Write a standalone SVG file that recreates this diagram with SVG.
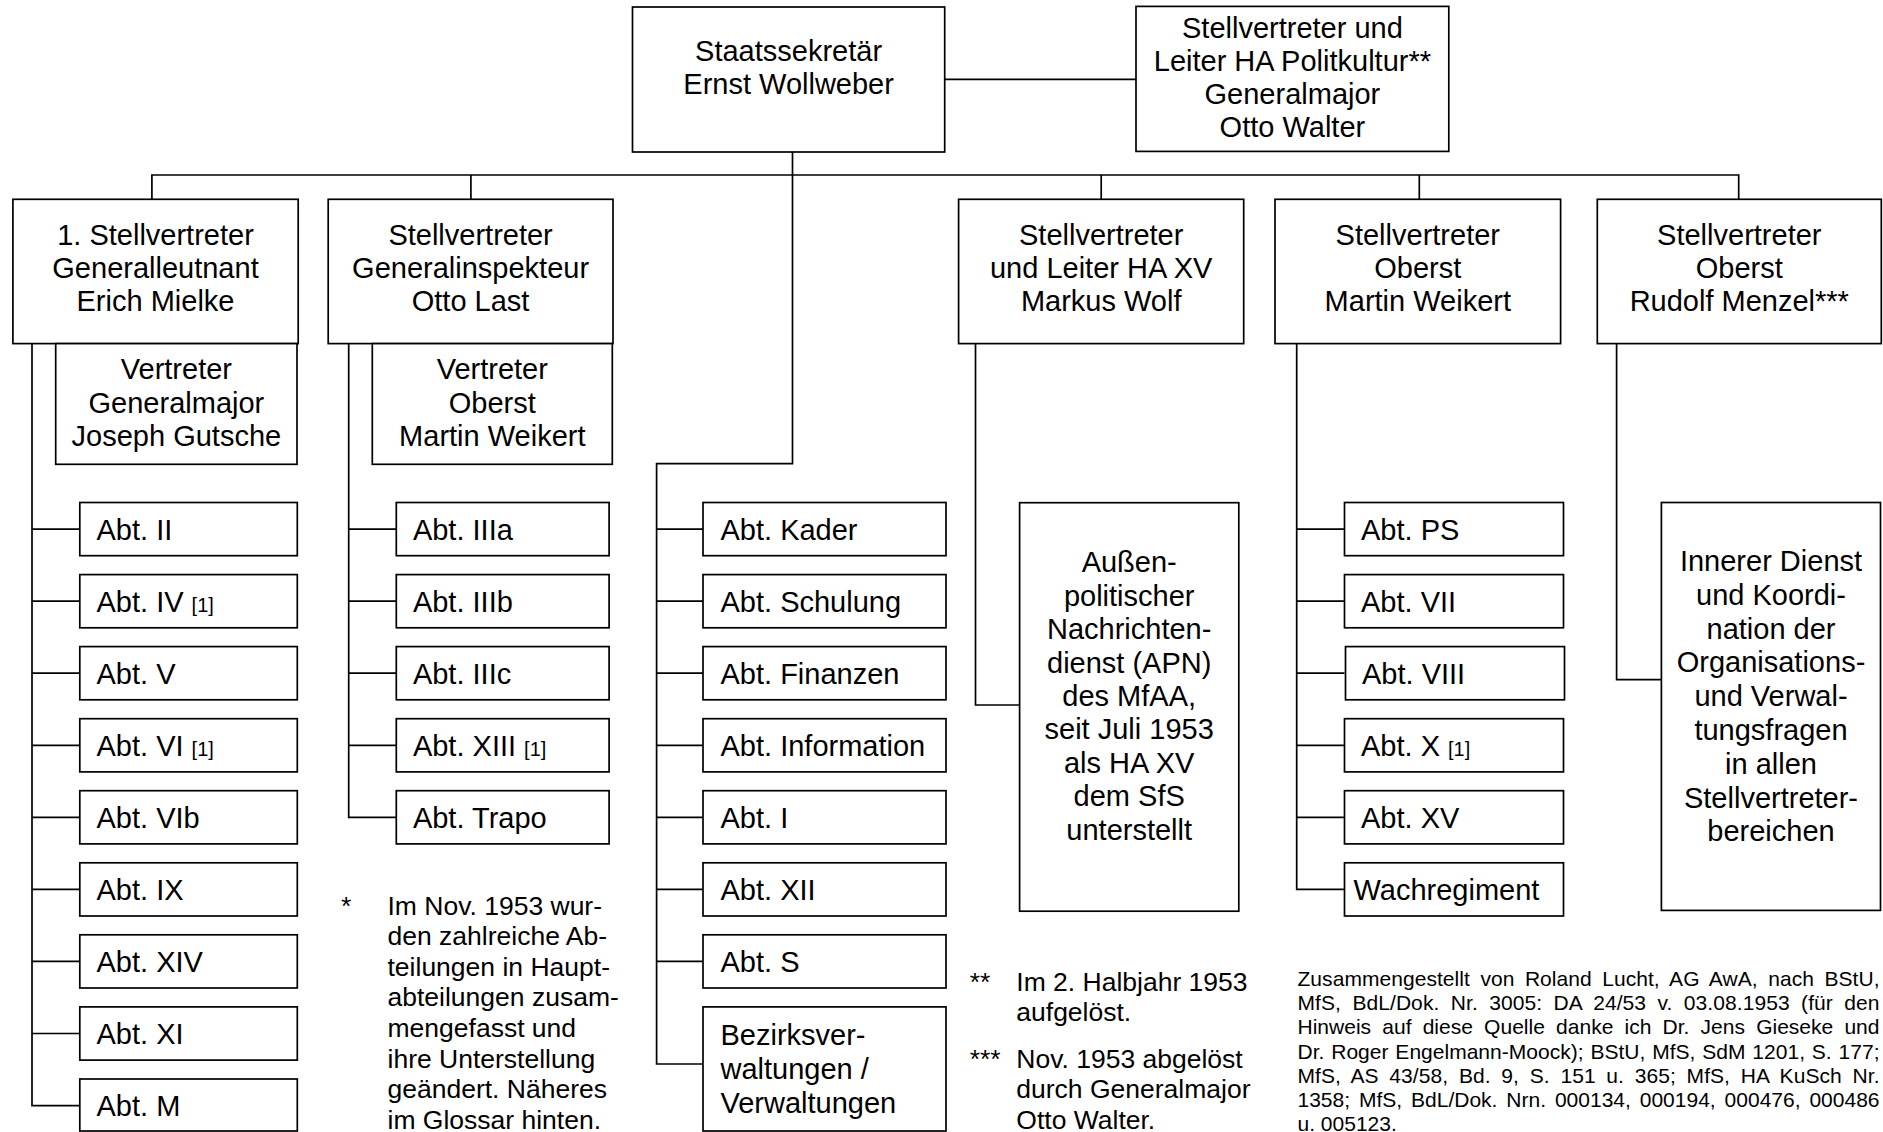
<svg xmlns="http://www.w3.org/2000/svg" width="1883" height="1132" viewBox="0 0 1883 1132">
<style>
rect.b{fill:#fff;stroke:#000;stroke-width:1.7}
.c path{fill:none;stroke:#000;stroke-width:1.7}
text{font-family:"Liberation Sans",Arial,sans-serif;fill:#000}
.m{font-size:29px}
.mc{font-size:29px;text-anchor:middle}
.f{font-size:26.5px}
.s{font-size:21px}
.sm{font-size:20px}
</style>
<rect x="0" y="0" width="1883" height="1132" fill="#fff"/>
<g class="c" id="connectors">
<path d="M944.7 79.3H1136"/>
<path d="M792.5 152V175"/>
<path d="M151.9 199.3V175H1738.7V199.3"/>
<path d="M470.9 175V199.3"/>
<path d="M1101.2 175V199.3"/>
<path d="M1419.3 175V199.3"/>
<path d="M792.5 175V463.6H656.6V1064H703"/>
<path d="M32 343.6V1105.6H79.8"/>
<path d="M32 529.1H79.8M32 601.2H79.8M32 673.2H79.8M32 745.3H79.8M32 817.3H79.8M32 889.4H79.8M32 961.4H79.8M32 1033.5H79.8"/>
<path d="M348.7 343.6V817.3H396.3"/>
<path d="M348.7 529.1H396.3M348.7 601.2H396.3M348.7 673.2H396.3M348.7 745.3H396.3"/>
<path d="M656.6 529.1H703M656.6 601.2H703M656.6 673.2H703M656.6 745.3H703M656.6 817.3H703M656.6 889.4H703M656.6 961.4H703"/>
<path d="M975.5 343.6V705H1019.6"/>
<path d="M1296.7 343.6V889.4H1344.5"/>
<path d="M1296.7 529.1H1344.5M1296.7 601.2H1344.5M1296.7 673.2H1344.5M1296.7 745.3H1344.5M1296.7 817.3H1344.5"/>
<path d="M1616.6 343.6V679.6H1661.4"/>
</g>
<g id="n-sfs"><rect class="b" x="632.5" y="7" width="312.2" height="145"/>
<text class="mc" x="788.6" y="60.7">Staatssekretär</text><text class="mc" x="788.6" y="93.8">Ernst Wollweber</text></g>
<g id="n-politkultur"><rect class="b" x="1136" y="6.4" width="312.8" height="145"/>
<text class="mc" x="1292.4" y="37.5">Stellvertreter und</text><text class="mc" x="1292.4" y="70.8">Leiter HA Politkultur**</text><text class="mc" x="1292.4" y="104.1">Generalmajor</text><text class="mc" x="1292.4" y="137.4">Otto Walter</text></g>
<g id="n-mielke"><rect class="b" x="12.9" y="199.3" width="285.3" height="144.3"/>
<text class="mc" x="155.5" y="244.5">1. Stellvertreter</text><text class="mc" x="155.5" y="277.8">Generalleutnant</text><text class="mc" x="155.5" y="311.1">Erich Mielke</text></g>
<g id="n-last"><rect class="b" x="328.2" y="199.3" width="284.8" height="144.3"/>
<text class="mc" x="470.6" y="244.5">Stellvertreter</text><text class="mc" x="470.6" y="277.8">Generalinspekteur</text><text class="mc" x="470.6" y="311.1">Otto Last</text></g>
<g id="n-wolf"><rect class="b" x="958.6" y="199.3" width="285.1" height="144.3"/>
<text class="mc" x="1101.2" y="244.5">Stellvertreter</text><text class="mc" x="1101.2" y="277.8">und Leiter HA XV</text><text class="mc" x="1101.2" y="311.1">Markus Wolf</text></g>
<g id="n-weikert"><rect class="b" x="1275" y="199.3" width="285.6" height="144.3"/>
<text class="mc" x="1417.8" y="244.5">Stellvertreter</text><text class="mc" x="1417.8" y="277.8">Oberst</text><text class="mc" x="1417.8" y="311.1">Martin Weikert</text></g>
<g id="n-menzel"><rect class="b" x="1597.3" y="199.3" width="284" height="144.3"/>
<text class="mc" x="1739.3" y="244.5">Stellvertreter</text><text class="mc" x="1739.3" y="277.8">Oberst</text><text class="mc" x="1739.3" y="311.1">Rudolf Menzel***</text></g>
<g id="n-gutsche"><rect class="b" x="55.7" y="343.6" width="241.3" height="120.7"/>
<text class="mc" x="176.4" y="379.3">Vertreter</text><text class="mc" x="176.4" y="412.5">Generalmajor</text><text class="mc" x="176.4" y="445.7">Joseph Gutsche</text></g>
<g id="n-vweikert"><rect class="b" x="372.3" y="343.6" width="240" height="120.7"/>
<text class="mc" x="492.3" y="379.3">Vertreter</text><text class="mc" x="492.3" y="412.5">Oberst</text><text class="mc" x="492.3" y="445.7">Martin Weikert</text></g>
<g id="col1">
<g id="n-abt2"><rect class="b" x="79.8" y="502.5" width="217.5" height="53.2"/><text class="m" x="96.5" y="539.6">Abt. II</text></g>
<g id="n-abt4"><rect class="b" x="79.8" y="574.6" width="217.5" height="53.2"/><text class="m" x="96.5" y="611.7">Abt. IV <tspan class="sm">[1]</tspan></text></g>
<g id="n-abt5"><rect class="b" x="79.8" y="646.6" width="217.5" height="53.2"/><text class="m" x="96.5" y="683.7">Abt. V</text></g>
<g id="n-abt6"><rect class="b" x="79.8" y="718.7" width="217.5" height="53.2"/><text class="m" x="96.5" y="755.8">Abt. VI <tspan class="sm">[1]</tspan></text></g>
<g id="n-abt6b"><rect class="b" x="79.8" y="790.7" width="217.5" height="53.2"/><text class="m" x="96.5" y="827.8">Abt. VIb</text></g>
<g id="n-abt9"><rect class="b" x="79.8" y="862.8" width="217.5" height="53.2"/><text class="m" x="96.5" y="899.9">Abt. IX</text></g>
<g id="n-abt14"><rect class="b" x="79.8" y="934.8" width="217.5" height="53.2"/><text class="m" x="96.5" y="971.9">Abt. XIV</text></g>
<g id="n-abt11"><rect class="b" x="79.8" y="1006.9" width="217.5" height="53.2"/><text class="m" x="96.5" y="1044">Abt. XI</text></g>
<g id="n-abtm"><rect class="b" x="79.8" y="1079" width="217.5" height="52"/><text class="m" x="96.5" y="1116.1">Abt. M</text></g>
</g>
<g id="col2">
<g id="n-abt3a"><rect class="b" x="396.3" y="502.5" width="212.8" height="53.2"/><text class="m" x="412.9" y="539.6">Abt. IIIa</text></g>
<g id="n-abt3b"><rect class="b" x="396.3" y="574.6" width="212.8" height="53.2"/><text class="m" x="412.9" y="611.7">Abt. IIIb</text></g>
<g id="n-abt3c"><rect class="b" x="396.3" y="646.6" width="212.8" height="53.2"/><text class="m" x="412.9" y="683.7">Abt. IIIc</text></g>
<g id="n-abt13"><rect class="b" x="396.3" y="718.7" width="212.8" height="53.2"/><text class="m" x="412.9" y="755.8">Abt. XIII <tspan class="sm">[1]</tspan></text></g>
<g id="n-trapo"><rect class="b" x="396.3" y="790.7" width="212.8" height="53.2"/><text class="m" x="412.9" y="827.8">Abt. Trapo</text></g>
</g>
<g id="col3">
<g id="n-kader"><rect class="b" x="703" y="502.5" width="243" height="53.2"/><text class="m" x="720.5" y="539.6">Abt. Kader</text></g>
<g id="n-schulung"><rect class="b" x="703" y="574.6" width="243" height="53.2"/><text class="m" x="720.5" y="611.7">Abt. Schulung</text></g>
<g id="n-finanzen"><rect class="b" x="703" y="646.6" width="243" height="53.2"/><text class="m" x="720.5" y="683.7">Abt. Finanzen</text></g>
<g id="n-information"><rect class="b" x="703" y="718.7" width="243" height="53.2"/><text class="m" x="720.5" y="755.8">Abt. Information</text></g>
<g id="n-abt1"><rect class="b" x="703" y="790.7" width="243" height="53.2"/><text class="m" x="720.5" y="827.8">Abt. I</text></g>
<g id="n-abt12"><rect class="b" x="703" y="862.8" width="243" height="53.2"/><text class="m" x="720.5" y="899.9">Abt. XII</text></g>
<g id="n-abts"><rect class="b" x="703" y="934.8" width="243" height="53.2"/><text class="m" x="720.5" y="971.9">Abt. S</text></g>
<g id="n-bezirk"><rect class="b" x="703" y="1006.9" width="243" height="124.1"/>
<text class="m" x="720.5" y="1044.7">Bezirksver-</text><text class="m" x="720.5" y="1078.8">waltungen /</text><text class="m" x="720.5" y="1112.8">Verwaltungen</text></g>
</g>
<g id="n-apn"><rect class="b" x="1019.6" y="502.7" width="219.2" height="408.5"/>
<text class="mc" x="1129.2" y="572.3">Außen-</text><text class="mc" x="1129.2" y="605.7">politischer</text><text class="mc" x="1129.2" y="639.1">Nachrichten-</text><text class="mc" x="1129.2" y="672.5">dienst (APN)</text><text class="mc" x="1129.2" y="705.9">des MfAA,</text><text class="mc" x="1129.2" y="739.3">seit Juli 1953</text><text class="mc" x="1129.2" y="772.7">als HA XV</text><text class="mc" x="1129.2" y="806.1">dem SfS</text><text class="mc" x="1129.2" y="839.5">unterstellt</text></g>
<g id="col5">
<g id="n-ps"><rect class="b" x="1344.5" y="502.5" width="219" height="53.2"/><text class="m" x="1361" y="539.6">Abt. PS</text></g>
<g id="n-abt7"><rect class="b" x="1344.5" y="574.6" width="219" height="53.2"/><text class="m" x="1361" y="611.7">Abt. VII</text></g>
<g id="n-abt8"><rect class="b" x="1345.5" y="646.6" width="219" height="53.2"/><text class="m" x="1362" y="683.7">Abt. VIII</text></g>
<g id="n-abt10"><rect class="b" x="1344.5" y="718.7" width="219" height="53.2"/><text class="m" x="1361" y="755.8">Abt. X <tspan class="sm">[1]</tspan></text></g>
<g id="n-abt15"><rect class="b" x="1344.5" y="790.7" width="219" height="53.2"/><text class="m" x="1361" y="827.8">Abt. XV</text></g>
<g id="n-wach"><rect class="b" x="1344.5" y="862.8" width="219" height="53.2"/><text class="m" x="1353.5" y="899.9">Wachregiment</text></g>
</g>
<g id="n-innerer"><rect class="b" x="1661.4" y="502.5" width="219.1" height="407.9"/>
<text class="mc" x="1771" y="571">Innerer Dienst</text><text class="mc" x="1771" y="604.8">und Koordi-</text><text class="mc" x="1771" y="638.6">nation der</text><text class="mc" x="1771" y="672.4">Organisations-</text><text class="mc" x="1771" y="706.2">und Verwal-</text><text class="mc" x="1771" y="740">tungsfragen</text><text class="mc" x="1771" y="773.8">in allen</text><text class="mc" x="1771" y="807.6">Stellvertreter-</text><text class="mc" x="1771" y="841.4">bereichen</text></g>
<g id="note1">
<text class="f" x="341" y="914.5">*</text>
<text class="f" x="387.5" y="914.5">Im Nov. 1953 wur-</text>
<text class="f" x="387.5" y="945.1">den zahlreiche Ab-</text>
<text class="f" x="387.5" y="975.7">teilungen in Haupt-</text>
<text class="f" x="387.5" y="1006.3">abteilungen zusam-</text>
<text class="f" x="387.5" y="1036.9">mengefasst und</text>
<text class="f" x="387.5" y="1067.5">ihre Unterstellung</text>
<text class="f" x="387.5" y="1098.1">geändert. Näheres</text>
<text class="f" x="387.5" y="1128.7">im Glossar hinten.</text>
</g>
<g id="note2">
<text class="f" x="969.7" y="990.6">**</text>
<text class="f" x="1016.3" y="990.6">Im 2. Halbjahr 1953</text>
<text class="f" x="1016.3" y="1021.4">aufgelöst.</text>
</g>
<g id="note3">
<text class="f" x="969.7" y="1067.5">***</text>
<text class="f" x="1016.3" y="1067.5">Nov. 1953 abgelöst</text>
<text class="f" x="1016.3" y="1098.3">durch Generalmajor</text>
<text class="f" x="1016.3" y="1129">Otto Walter.</text>
</g>
<g id="source">
<text class="s" x="1297.5" y="986" word-spacing="4.6" textLength="582" lengthAdjust="spacing">Zusammengestellt von Roland Lucht, AG AwA, nach BStU,</text>
<text class="s" x="1297.5" y="1010.2" word-spacing="5.5" textLength="582" lengthAdjust="spacing">MfS, BdL/Dok. Nr. 3005: DA 24/53 v. 03.08.1953 (für den</text>
<text class="s" x="1297.5" y="1034.4" word-spacing="5.3" textLength="582" lengthAdjust="spacing">Hinweis auf diese Quelle danke ich Dr. Jens Gieseke und</text>
<text class="s" x="1297.5" y="1058.6" word-spacing="1" textLength="582" lengthAdjust="spacing">Dr. Roger Engelmann-Moock); BStU, MfS, SdM 1201, S. 177;</text>
<text class="s" x="1297.5" y="1082.8" word-spacing="4.8" textLength="582" lengthAdjust="spacing">MfS, AS 43/58, Bd. 9, S. 151 u. 365; MfS, HA KuSch Nr.</text>
<text class="s" x="1297.5" y="1107" word-spacing="3.1" textLength="582" lengthAdjust="spacing">1358; MfS, BdL/Dok. Nrn. 000134, 000194, 000476, 000486</text>
<text class="s" x="1297.5" y="1131.2">u. 005123.</text>
</g>
</svg>
